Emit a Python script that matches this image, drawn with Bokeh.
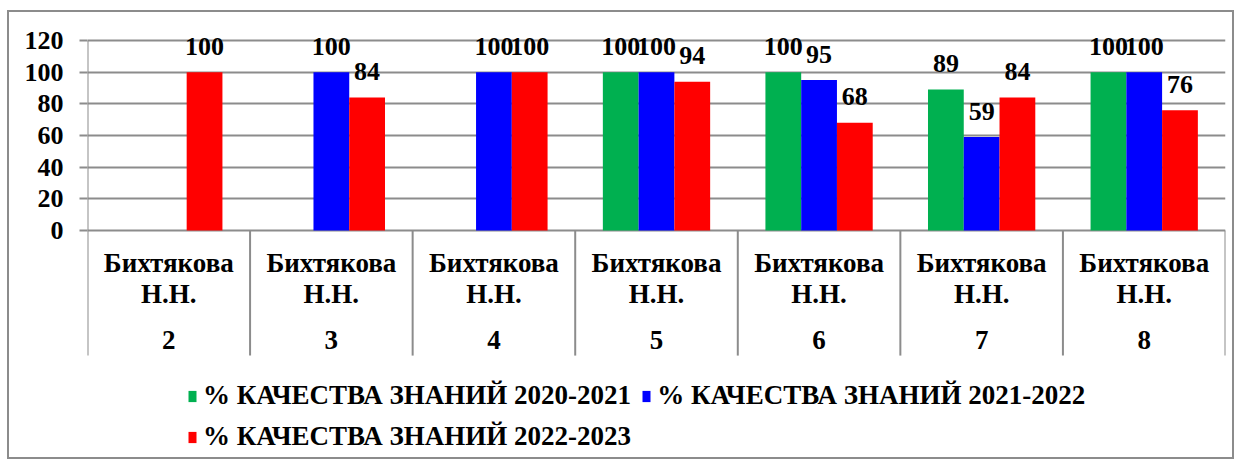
import math
from bokeh.plotting import figure
from bokeh.models import FactorRange, Range1d, FixedTicker, Legend, LegendItem, ColumnDataSource
from bokeh.transform import dodge
from bokeh.core.properties import value
from bokeh.embed import file_html
from bokeh.resources import INLINE

# ---- data ----
groups = ["2", "3", "4", "5", "6", "7", "8"]
teacher_line1 = "Бихтякова"
teacher_line2 = "Н.Н."
series_names = ["% КАЧЕСТВА ЗНАНИЙ 2020-2021",
                "% КАЧЕСТВА ЗНАНИЙ 2021-2022",
                "% КАЧЕСТВА ЗНАНИЙ 2022-2023"]
q_2020_2021 = [None, None, None, 100, 100, 89, 100]
q_2021_2022 = [None, 100, 100, 100, 95, 59, 100]
q_2022_2023 = [100, 84, 100, 94, 68, 84, 76]
y_ticks = [0, 20, 40, 60, 80, 100, 120]

colors = ["#00B050", "#0000FF", "#FF0000"]
FONT = "'Liberation Serif', 'Times New Roman', serif"
FS = "26px"
FS_CAT = "27px"
GRID = "#8c8c8c"

H = 449
TOP = 28                 # pixels between canvas top and the 120 line
UNIT = 120 / 190         # data units per pixel
y_top = 120 + TOP * UNIT
y_bottom = 120 - (H - TOP) * UNIT
cat_bottom = -79         # bottom of the category-label band

p = figure(width=1227, height=H, output_backend="svg", toolbar_location=None,
           x_range=FactorRange(*groups, range_padding=0),
           y_range=Range1d(y_bottom, y_top),
           x_axis_location=None,
           min_border_left=78, min_border_right=11, min_border_top=0, min_border_bottom=0)
p.styles = {"border": "2px solid #8c8c8c", "margin": "10px 0px 0px 7px"}
p.outline_line_color = None
p.background_fill_color = "white"
p.border_fill_color = "white"

# grid
p.xgrid.visible = False
p.ygrid.ticker = FixedTicker(ticks=y_ticks)
p.ygrid.grid_line_color = GRID
p.ygrid.grid_line_width = 2

# y axis
ax = p.yaxis[0]
ax.ticker = FixedTicker(ticks=y_ticks)
ax.axis_line_color = None
ax.major_tick_line_color = GRID
ax.major_tick_line_width = 2
ax.major_tick_out = 8
ax.major_tick_in = 0
ax.minor_tick_line_color = None
ax.major_label_standoff = 16
ax.major_label_text_font = FONT
ax.major_label_text_font_style = "bold"
ax.major_label_text_font_size = FS
ax.major_label_text_color = "black"

# bars
bw = 0.22
offsets = [-bw, 0.0, bw]
series = [q_2020_2021, q_2021_2022, q_2022_2023]
items = []
for name, vals, off, col in zip(series_names, series, offsets, colors):
    g = [gr for gr, v in zip(groups, vals) if v is not None]
    v = [vv for vv in vals if vv is not None]
    src = ColumnDataSource(dict(g=g, v=v, lbl=[str(x) for x in v]))
    r = p.vbar(x=dodge("g", off, range=p.x_range), top="v", width=bw, bottom=0,
               source=src, fill_color=col, line_color=None)
    p.text(x=dodge("g", off, range=p.x_range), y="v", text="lbl", source=src,
           text_align="center", text_baseline="alphabetic", y_offset=-26,
           text_font=value(FONT), text_font_style="bold", text_font_size=FS,
           text_color="black")
    items.append(LegendItem(label=name, renderers=[r]))

# value axis line (top of scale down through category band)
p.segment(x0=[0], x1=[0], y0=[120], y1=[cat_bottom], line_color=GRID, line_width=2)
# category separators
bounds = list(range(1, len(groups) + 1))
p.segment(x0=bounds, x1=bounds, y0=[0] * len(bounds), y1=[cat_bottom] * len(bounds),
          line_color=GRID, line_width=2)
zeros = [0] * len(groups)
for txt, off in [([teacher_line1] * len(groups), 32),
                 ([teacher_line2] * len(groups), 63),
                 (groups, 109)]:
    p.text(x=groups, y=zeros, text=txt, y_offset=off,
           text_align="center", text_baseline="alphabetic",
           text_font=value(FONT), text_font_style="bold", text_font_size=FS_CAT,
           text_color="black")

legend = Legend(items=items, location=(100, 9), orientation="horizontal", ncols=2,
                label_text_font=FONT, label_text_font_style="bold",
                label_text_font_size=FS_CAT, label_text_color="black",
                glyph_width=10, glyph_height=14, label_standoff=6,
                spacing=10, padding=0, margin=0,
                border_line_color=None, background_fill_alpha=0)
p.add_layout(legend, "center")

open("out.html", "w").write(file_html(p, INLINE))
